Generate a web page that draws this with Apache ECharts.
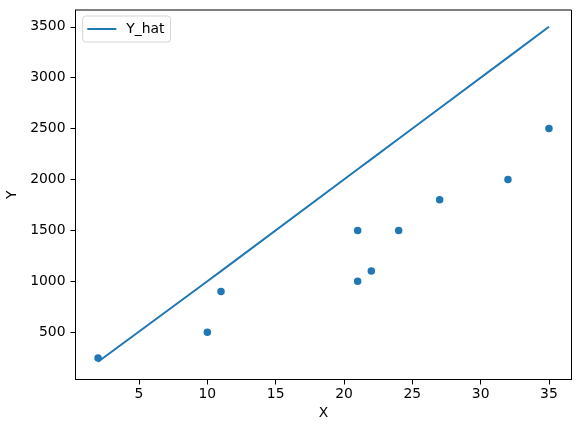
<!DOCTYPE html>
<html>
<head>
<meta charset="utf-8">
<script src="https://cdn.jsdelivr.net/npm/echarts@6/dist/echarts.min.js"></script>
<style>html,body{margin:0;padding:0;background:#fff;}#c{width:581px;height:432px;}</style>
</head>
<body>
<div id="c"></div>
<script>
const xValues = [2, 10, 11, 21, 21, 22, 24, 27, 32, 35];
const yValues = [245, 500, 900, 1000, 1500, 1100, 1500, 1800, 2000, 2500];
const yHat = [210, 1000, 1100, 2100, 2100, 2200, 2400, 2700, 3200, 3500];
const xTicks = [5, 10, 15, 20, 25, 30, 35];
const yTicks = [500, 1000, 1500, 2000, 2500, 3000, 3500];

const blue = '#1f77b4';
const font = 'DejaVu Sans';
const chart = echarts.init(document.getElementById('c'), null, {renderer: 'canvas'});
chart.setOption({
  animation: false,
  backgroundColor: '#fff',
  textStyle: {fontFamily: font, color: '#000'},
  grid: {left: 75.5, right: 9.5, top: 10, bottom: 52.5, containLabel: false, outerBoundsMode: 'none',
         show: true, borderColor: '#000', borderWidth: 1, backgroundColor: 'transparent'},
  legend: {
    data: ['Y_hat'], left: 82.7, top: 16, orient: 'vertical',
    icon: 'rect', padding: [5, 6, 5, 4.6], itemWidth: 29, itemHeight: 2,
    backgroundColor: 'rgba(255,255,255,0.8)', borderColor: '#d5d5d5', borderWidth: 1, borderRadius: 3,
    textStyle: {fontFamily: font, fontSize: 13.9, color: '#000', padding: [0, 0, 0, 5], lineHeight: 16}
  },
  xAxis: {
    type: 'value', min: 0.35, max: 36.65,
    name: 'X', nameLocation: 'middle', nameGap: 27,
    nameTextStyle: {fontFamily: font, fontSize: 13.9, color: '#000'},
    axisLine: {show: true, onZero: false, lineStyle: {color: '#000', width: 1}},
    axisTick: {show: true, length: 5, lineStyle: {color: '#000'}, customValues: xTicks},
    axisLabel: {fontFamily: font, fontSize: 13.9, color: '#000', margin: 8, customValues: xTicks,
                formatter: v => String(v)},
    splitLine: {show: false}
  },
  yAxis: {
    type: 'value', min: 35, max: 3665,
    name: 'Y', nameLocation: 'middle', nameGap: 54, nameRotate: 90,
    nameTextStyle: {fontFamily: font, fontSize: 13.9, color: '#000'},
    axisLine: {show: true, onZero: false, lineStyle: {color: '#000', width: 1}},
    axisTick: {show: true, length: 5, lineStyle: {color: '#000'}, customValues: yTicks},
    axisLabel: {fontFamily: font, fontSize: 13.9, color: '#000', margin: 10, customValues: yTicks,
                formatter: v => String(v)},
    splitLine: {show: false}
  },
  series: [
    {
      name: 'Y_hat', type: 'line', symbol: 'none', color: blue,
      lineStyle: {width: 2, color: blue},
      data: xValues.map((x, i) => [x, yHat[i]]),
      z: 2
    },
    {
      name: 'data', type: 'scatter', symbol: 'circle', symbolSize: 7.5, color: blue,
      itemStyle: {color: blue, opacity: 1},
      data: xValues.map((x, i) => [x, yValues[i]]),
      z: 3
    }
  ]
});
</script>
</body>
</html>
